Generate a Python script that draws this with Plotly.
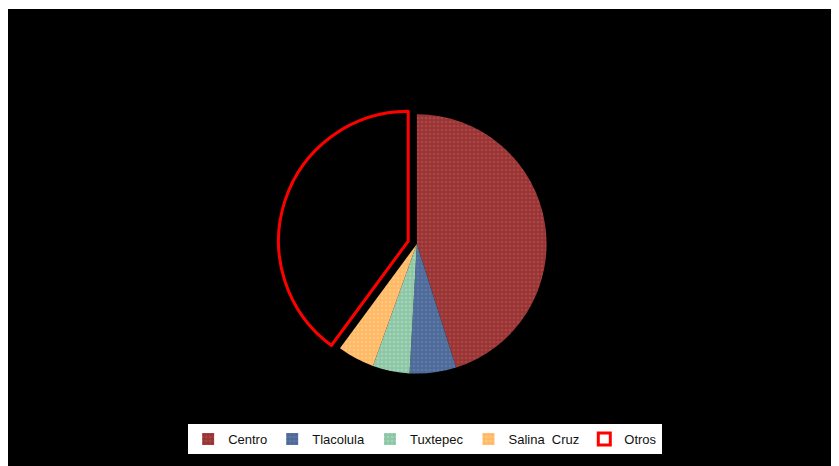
import plotly.graph_objects as go

categories = ["Centro", "Tlacolula", "Tuxtepec", "Salina  Cruz", "Otros"]
values = [45.1, 5.8, 4.6, 4.6, 39.9]
colors = ["#9A3434", "#4E6A98", "#8CC6A6", "#FFB868", "rgba(0,0,0,0)"]
dot_colors = ["#B65A5A", "#7088B4", "#B6E6C4", "#FFD890", "rgba(0,0,0,0)"]
line_colors = ["rgba(0,0,0,0)", "rgba(0,0,0,0)", "rgba(0,0,0,0)", "rgba(0,0,0,0)", "#FF0000"]
line_widths = [0, 0, 0, 0, 3]
pulls = [0, 0, 0, 0, 0.07]

fig = go.Figure()
fig.add_trace(go.Pie(
    labels=categories,
    values=values,
    sort=False,
    direction="clockwise",
    rotation=0,
    pull=pulls,
    textinfo="none",
    hoverinfo="label+percent",
    marker=dict(
        colors=colors,
        line=dict(color=line_colors, width=line_widths),
        pattern=dict(shape=[".", ".", ".", ".", ""], fgcolor=dot_colors,
                     bgcolor=colors, size=4, solidity=0.35, fillmode="overlay"),
    ),
    domain=dict(x=[0.325, 0.659], y=[0.182, 0.790]),
))

fig.update_layout(
    width=831, height=458,
    margin=dict(l=0, t=1, r=0, b=0),
    paper_bgcolor="white",
    plot_bgcolor="black",
    font=dict(family="Arial, Liberation Sans, sans-serif", size=13, color="#111111"),
    shapes=[dict(type="rect", xref="paper", yref="paper", x0=0, x1=1, y0=0, y1=1,
                 fillcolor="black", line=dict(width=0), layer="below")],
    legend=dict(
        orientation="h", x=0.502, xanchor="center", y=0.024, yanchor="bottom",
        bgcolor="white", bordercolor="#000000", borderwidth=1,
        font=dict(size=13, color="#111111"),
        itemwidth=30, tracegroupgap=0,
    ),
    showlegend=True,
)

fig.write_html("out.html")
